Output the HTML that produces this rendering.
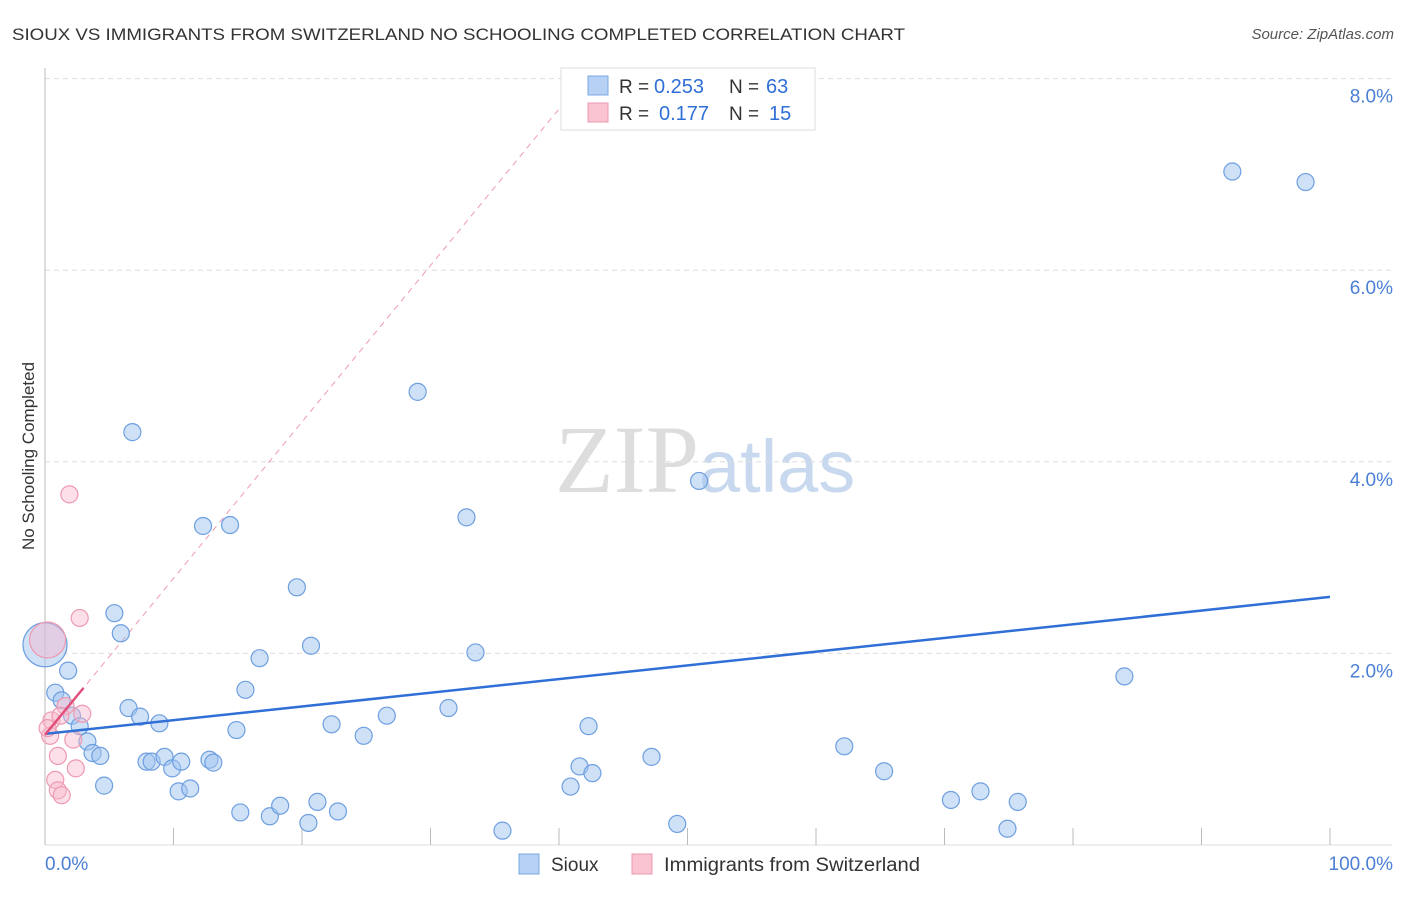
<!DOCTYPE html>
<html><head><meta charset="utf-8"><style>
body{margin:0;background:#fff;font-family:"Liberation Sans",sans-serif}
</style></head><body>
<svg id="c" width="1406" height="892" xmlns="http://www.w3.org/2000/svg" font-family="Liberation Sans, sans-serif">
<text x="12" y="40" font-size="17" fill="#333" textLength="893" lengthAdjust="spacingAndGlyphs">SIOUX VS IMMIGRANTS FROM SWITZERLAND NO SCHOOLING COMPLETED CORRELATION CHART</text>
<text x="1394" y="39" font-size="15" fill="#555" font-style="italic" text-anchor="end">Source: ZipAtlas.com</text>
<text x="34" y="456" font-size="17" fill="#333" text-anchor="middle" transform="rotate(-90 34 456)">No Schooling Completed</text>
<text x="555" y="492" font-size="96" fill="#ddd" font-family="Liberation Serif, serif">ZIP<tspan fill="#c8d9ef" font-family="Liberation Sans, sans-serif" font-size="74">atlas</tspan></text>
<g id="grid"></g><g id="marks"></g>
<g>
<rect x="561" y="68" width="254" height="62" fill="#fff" stroke="#ddd"/>
<rect x="588" y="76" width="20" height="19" fill="#b7d1f4" stroke="#7aa7e4"/>
<rect x="588" y="103" width="20" height="19" fill="#f9c3d2" stroke="#ee99b0"/>
<text x="619" y="93" font-size="19" fill="#333">R =</text><text x="654" y="93" font-size="20" fill="#2f6fd6">0.253</text>
<text x="729" y="93" font-size="19" fill="#333">N =</text><text x="766" y="93" font-size="20" fill="#2f6fd6">63</text>
<text x="619" y="120" font-size="19" fill="#333">R =</text><text x="659" y="120" font-size="20" fill="#2f6fd6">0.177</text>
<text x="729" y="120" font-size="19" fill="#333">N =</text><text x="769" y="120" font-size="20" fill="#2f6fd6">15</text>
</g>
<g>
<rect x="519" y="854" width="20" height="20" fill="#b7d1f4" stroke="#7aa7e4"/>
<text x="551" y="871" font-size="19" fill="#333">Sioux</text>
<rect x="632" y="854" width="20" height="20" fill="#f9c3d2" stroke="#ee99b0"/>
<text x="664" y="871" font-size="19" fill="#333" textLength="256" lengthAdjust="spacingAndGlyphs">Immigrants from Switzerland</text>
</g>
</svg>
<script>
const blueX=[0,0.8,1.8,1.3,2.1,2.7,3.3,3.7,4.3,4.6,5.4,5.9,6.5,6.8,7.4,7.9,8.3,8.9,9.3,9.9,10.4,10.6,11.3,12.3,12.8,13.1,14.4,14.9,15.2,15.6,16.7,17.5,18.3,19.6,20.5,20.7,21.2,22.3,22.8,24.8,26.6,29.0,31.4,32.8,33.5,35.6,40.9,41.6,42.3,42.6,47.2,49.2,50.9,62.2,65.3,70.5,72.8,74.9,75.7,84.0,92.4,98.1];
const blueY=[2.09,1.59,1.82,1.51,1.35,1.24,1.08,0.96,0.93,0.62,2.42,2.21,1.43,4.31,1.34,0.87,0.87,1.27,0.92,0.80,0.56,0.87,0.59,3.33,0.89,0.86,3.34,1.20,0.34,1.62,1.95,0.30,0.41,2.69,0.23,2.08,0.45,1.26,0.35,1.14,1.35,4.73,1.43,3.42,2.01,0.15,0.61,0.82,1.24,0.75,0.92,0.22,3.80,1.03,0.77,0.47,0.56,0.17,0.45,1.76,7.03,6.92];
const pinkX=[0.2,0.5,0.4,0.8,1.0,1.3,1.0,1.6,1.9,2.2,2.4,2.7,2.9,1.2,0.2];
const pinkY=[2.14,1.30,1.14,0.68,0.57,0.52,0.93,1.45,3.66,1.10,0.80,2.37,1.37,1.35,1.22];
const yTicks=[2,4,6,8];
const xTickLabels=["0.0%","100.0%"];
const blueTrend=[1.16,2.59];
const pinkTrend=[1.15,1.64];
const X=v=>45+v*12.85, Y=v=>845-v*95.8;
const NS="http://www.w3.org/2000/svg";
const g=document.getElementById('grid'), m=document.getElementById('marks');
function el(t,a,p){const e=document.createElementNS(NS,t);for(const k in a)e.setAttribute(k,a[k]);p.appendChild(e);return e;}
yTicks.forEach(t=>{
 const l=el('line',{x1:45,x2:1392,y1:Y(t),y2:Y(t),stroke:'#ddd','stroke-dasharray':'5,4'},g);
 
 
 const tx=el('text',{x:1393,y:Y(t)+24,'font-size':19,fill:'#4a7fd4','text-anchor':'end'},g);tx.textContent=t.toFixed(1)+'%';
 
 
});
const ax=el('line',{x1:45,x2:45,y1:68,y2:845,stroke:'#bbb'},g);


const bx=el('line',{x1:45,x2:1392,y1:845,y2:845,stroke:'#ddd'},g);


for(let i=0;i<=10;i++){const t=el('line',{x1:X(i*10),x2:X(i*10),y1:828,y2:845,stroke:'#bbb'},g);
 
 }
const xl0=el('text',{x:45,y:870,'font-size':19,fill:'#4a7fd4'},g);xl0.textContent=xTickLabels[0];


const xl1=el('text',{x:1393,y:870,'font-size':19,fill:'#4a7fd4','text-anchor':'end'},g);xl1.textContent=xTickLabels[1];


const slope=(pinkTrend[1]-pinkTrend[0])/3;
const xe=(7.7-pinkTrend[0])/slope;
const pd=el('line',{x1:X(0),y1:Y(pinkTrend[0]),x2:X(xe),y2:Y(pinkTrend[0]+slope*xe),stroke:'#ee9ab0','stroke-dasharray':'6,5','stroke-width':1},m);


blueX.forEach((x,i)=>{const c=el('circle',{cx:X(x),cy:Y(blueY[i]),r:i==0?22:8.5,fill:'rgba(160,196,240,0.5)',stroke:'#6e9fe0','stroke-width':1.2},m);
 
 });
pinkX.forEach((x,i)=>{const c=el('circle',{cx:X(x),cy:Y(pinkY[i]),r:i==0?18:8.5,fill:'rgba(248,185,205,0.45)',stroke:'#ee9ab0','stroke-width':1.2},m);
 
 });
const bt=el('line',{x1:X(0),y1:Y(blueTrend[0]),x2:X(100),y2:Y(blueTrend[1]),stroke:'#2f6fd6','stroke-width':2.5},m);


const pt=el('line',{x1:X(0),y1:Y(pinkTrend[0]),x2:X(3),y2:Y(pinkTrend[1]),stroke:'#e0507a','stroke-width':2.5},m);


</script>
</body></html>
